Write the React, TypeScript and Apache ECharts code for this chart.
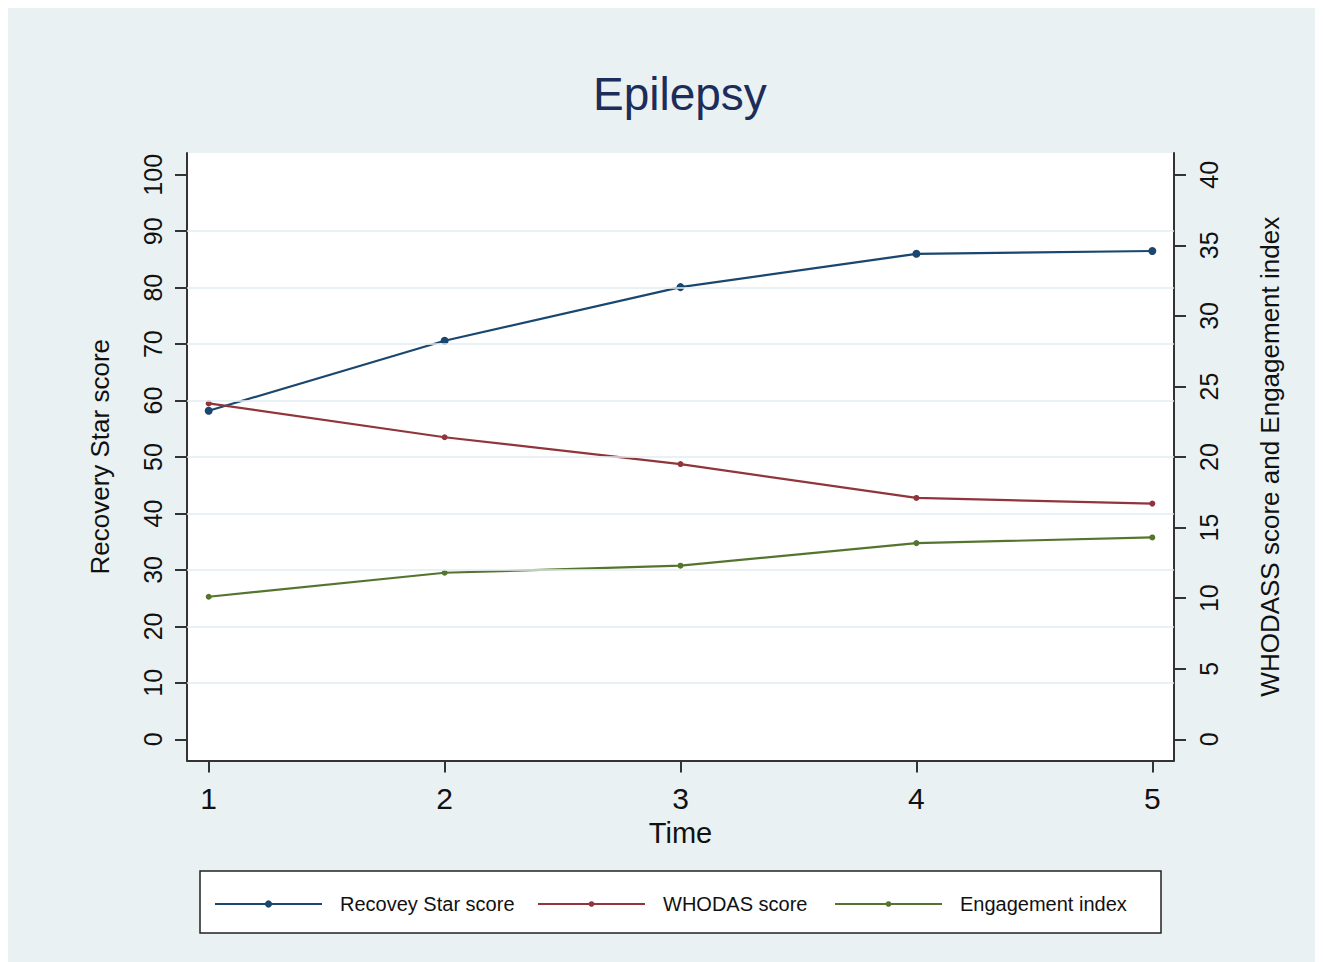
import React, { useEffect, useRef } from "react";
import * as echarts from "echarts";

const timePoints = [1, 2, 3, 4, 5];
const recoveryStar = [58.2, 70.6, 80.1, 86.0, 86.5];
const whodas = [23.8, 21.4, 19.5, 17.1, 16.7];
const engagement = [10.1, 11.8, 12.3, 13.9, 14.3];
const leftTicks = [0, 10, 20, 30, 40, 50, 60, 70, 80, 90, 100];
const rightTicks = [0, 5, 10, 15, 20, 25, 30, 35, 40];
const gridValues = [10, 20, 30, 40, 50, 60, 70, 80, 90];
const seriesNames = ["Recovey Star score", "WHODAS score", "Engagement index"];

const FONT = "Liberation Sans, Arial, sans-serif";
const AXIS_COLOR = "#333333";

export default function App() {
  const ref = useRef<HTMLDivElement>(null);
  useEffect(() => {
    document.documentElement.style.overflow = "hidden";
    if (!ref.current) return;
    const chart = echarts.init(ref.current, null, { renderer: "svg" });
    const pair = (ys: number[]) => timePoints.map((t, i) => [t, ys[i]]);
    const axisCommon = {
      axisLine: { show: true, onZero: false, lineStyle: { color: AXIS_COLOR, width: 2 } },
      axisTick: { show: true, length: 12, lineStyle: { color: AXIS_COLOR, width: 2 } },
      splitLine: { show: false },
    };
    const legendCommon = {
      top: 881,
      itemWidth: 107,
      textStyle: { fontFamily: FONT, fontSize: 20, color: "#111", padding: [0, 0, 0, 13] },
      selectedMode: false,
    };
    chart.setOption({
      animation: false,
      backgroundColor: "#eaf1f3",
      textStyle: { fontFamily: FONT },
      title: {
        text: "Epilepsy",
        left: 580,
        top: 58,
        textStyle: { fontFamily: FONT, fontSize: 46, fontWeight: "normal", color: "#1c2d5a" },
      },
      graphic: [
        {
          type: "rect",
          shape: { x: 192, y: 863, width: 961, height: 62 },
          style: { fill: "#ffffff", stroke: "#222", lineWidth: 1.5 },
          z: 0,
        },
      ],
      legend: [
        { ...legendCommon, left: 201, itemHeight: 9, data: [seriesNames[0]] },
        { ...legendCommon, left: 524, itemHeight: 7, data: [seriesNames[1]] },
        { ...legendCommon, left: 821, itemHeight: 7, data: [seriesNames[2]] },
      ],
      grid: { left: 179, right: 149, top: 145, bottom: 201.5, backgroundColor: "#ffffff", show: true, borderWidth: 0 },
      xAxis: {
        type: "value",
        min: 0.908,
        max: 5.092,
        name: "Time",
        nameLocation: "middle",
        nameGap: 51,
        nameTextStyle: { fontFamily: FONT, fontSize: 29, color: "#111" },
        ...axisCommon,
        axisTick: { ...axisCommon.axisTick, customValues: timePoints },
        axisLabel: { customValues: timePoints, fontFamily: FONT, fontSize: 30, color: "#111", margin: 23 },
      },
      yAxis: [
        {
          type: "value",
          position: "left",
          min: -3.76,
          max: 103.86,
          name: "Recovery Star score",
          nameLocation: "middle",
          nameRotate: 90,
          nameGap: 74,
          nameTextStyle: { fontFamily: FONT, fontSize: 26, color: "#111" },
          ...axisCommon,
          axisTick: { ...axisCommon.axisTick, customValues: leftTicks },
          axisLabel: { customValues: leftTicks, rotate: 90, fontFamily: FONT, fontSize: 25, color: "#111", margin: 22 },
        },
        {
          type: "value",
          position: "right",
          min: -1.504,
          max: 41.544,
          name: "WHODASS score and Engagement index",
          nameLocation: "middle",
          nameRotate: 90,
          nameGap: 83,
          nameTextStyle: { fontFamily: FONT, fontSize: 26, color: "#111" },
          ...axisCommon,
          axisTick: { ...axisCommon.axisTick, customValues: rightTicks },
          axisLabel: { customValues: rightTicks, rotate: 90, fontFamily: FONT, fontSize: 25, color: "#111", margin: 22 },
        },
      ],
      series: [
        {
          name: "gridlines",
          type: "line",
          data: [],
          yAxisIndex: 0,
          z: 1,
          silent: true,
          markLine: {
            silent: true,
            symbol: ["none", "none"],
            label: { show: false },
            lineStyle: { color: "#e3edf1", type: "solid", width: 1.5 },
            data: gridValues.map((v) => ({ yAxis: v })),
          },
        },
        {
          name: seriesNames[0],
          type: "line",
          yAxisIndex: 0,
          data: pair(recoveryStar),
          symbol: "circle",
          symbolSize: 8,
          z: 3,
          itemStyle: { color: "#1a476f" },
          lineStyle: { color: "#1a476f", width: 2.2 },
        },
        {
          name: seriesNames[1],
          type: "line",
          yAxisIndex: 1,
          data: pair(whodas),
          symbol: "circle",
          symbolSize: 6,
          z: 3,
          itemStyle: { color: "#90353b" },
          lineStyle: { color: "#90353b", width: 2.2 },
        },
        {
          name: seriesNames[2],
          type: "line",
          yAxisIndex: 1,
          data: pair(engagement),
          symbol: "circle",
          symbolSize: 6,
          z: 3,
          itemStyle: { color: "#55752f" },
          lineStyle: { color: "#55752f", width: 2.2 },
        },
      ],
    });
    return () => chart.dispose();
  }, []);
  return <div ref={ref} style={{ width: 1315, height: 954 }} />;
}
